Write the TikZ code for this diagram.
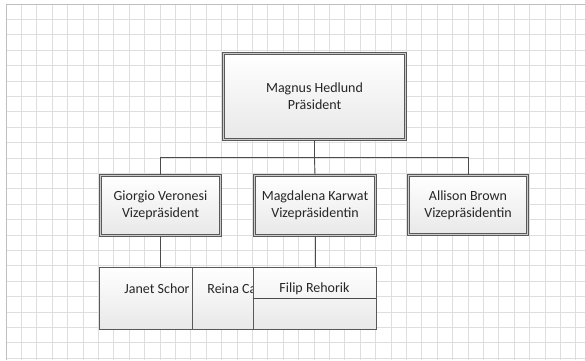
\documentclass[tikz,border=0pt]{standalone}
\usepackage{fontspec}
\setmainfont{Carlito}
\usetikzlibrary{shadows}
\begin{document}
\begin{tikzpicture}[x=1pt, y=-1pt, line width=0.8pt,
    every node/.style={font=\fontsize{14}{17}\selectfont, text=black!85, inner sep=0pt},
    gridline/.style={draw=black!13, line width=0.8pt},
    headbox/.style={draw=black!65, double=black!20, double distance=1.3pt, line width=0.7pt,
        top color=white, bottom color=black!9, align=center,
        drop shadow={shadow xshift=1.6pt, shadow yshift=-1.6pt, fill=black!45, opacity=0.8}},
    staffbox/.style={draw=black!65, line width=0.9pt, top color=white, bottom color=black!9},
    link/.style={draw=black!70, line width=0.9pt}]
    \useasboundingbox (0,0) rectangle (585,360);
    % background grid
    \foreach \k in {0,...,37} \draw[gridline] (6+15.4*\k,4) -- (6+15.4*\k,360);
    \foreach \k in {0,...,23} \draw[gridline] (6,4+15.4*\k) -- (585,4+15.4*\k);
    \draw[black!25] (6,360) -- (6,4) -- (585,4);
    % head and deputies
    \node[headbox, minimum width=182, minimum height=86] (pres) at (314.5,96.5) {Magnus Hedlund\\Präsident};
    \node[headbox, minimum width=120, minimum height=60] (vpa) at (160.5,205.5) {Giorgio Veronesi\\Vizepräsident};
    \node[headbox, minimum width=121, minimum height=60] (vpb) at (315,205.5) {Magdalena Karwat\\Vizepräsidentin};
    \node[headbox, minimum width=119, minimum height=59] (vpc) at (468,205) {Allison Brown\\Vizepräsidentin};
    \draw[link] (pres.south) -- ++(0,18) coordinate (bus);
    \draw[link] (vpa.north) |- (bus) -| (vpc.north);
    \draw[link] (bus) -- (vpb.north);
    % staff, stacked over one another
    \node[staffbox, minimum width=123, minimum height=62] (janet) at (160.5,298) {};
    \node[anchor=base west] (janetname) at (124,293) {Janet Schor};
    \node[staffbox, minimum width=123, minimum height=62] (reina) at (253.5,298) {};
    \node[anchor=base west] (reinaname) at (207,293) {Reina Ca};
    \node[staffbox, minimum width=123, minimum height=62] (filip) at (314.5,298) {};
    \draw[link] (filip.west) -- (filip.east);
    \node (filipname) at (314.5,289) {Filip Rehorik};
    \draw[link] (vpa.south) -- (janet.north);
    \draw[link] (vpb.south) -- (vpb.south |- filip.north);
\end{tikzpicture}
\end{document}
